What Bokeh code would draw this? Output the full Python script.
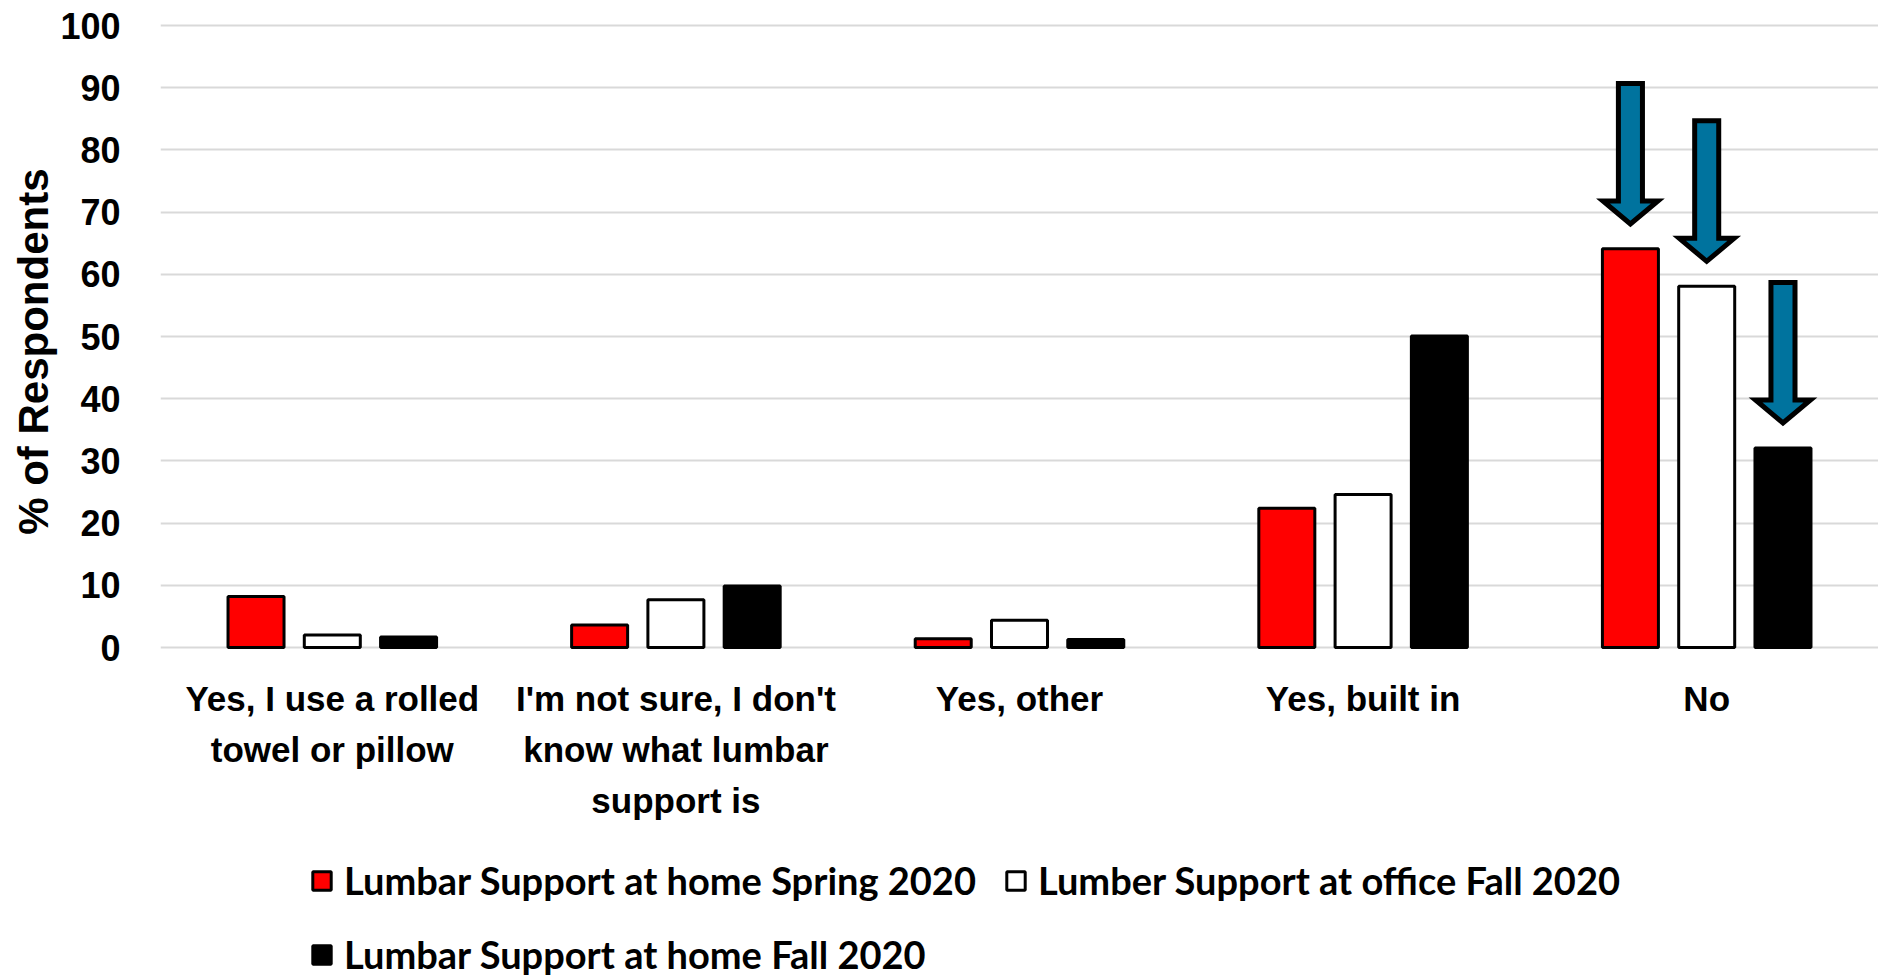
from bokeh.plotting import figure
from bokeh.models import ColumnDataSource, FixedTicker, Legend, LegendItem, Title
from bokeh.core.properties import value
from bokeh.embed import file_html
from bokeh.resources import INLINE

# ---- data ----
categories = [
    "Yes, I use a rolled towel or pillow",
    "I'm not sure, I don't know what lumbar support is",
    "Yes, other",
    "Yes, built in",
    "No",
]
category_labels = [
    "Yes, I use a rolled\ntowel or pillow",
    "I'm not sure, I don't\nknow what lumbar\nsupport is",
    "Yes, other",
    "Yes, built in",
    "No",
]
series_names = [
    "Lumbar Support at home Spring 2020",
    "Lumber Support at office Fall 2020",
    "Lumbar Support at home Fall 2020",
]
home_spring_2020 = [8.2, 3.6, 1.4, 22.4, 64.1]
office_fall_2020 = [2.0, 7.7, 4.4, 24.6, 58.1]
home_fall_2020 = [1.7, 9.9, 1.3, 50.1, 32.1]
series_values = [home_spring_2020, office_fall_2020, home_fall_2020]
series_colors = ["#FF0000", "#FFFFFF", "#000000"]
arrow_category = "No"
y_ticks = list(range(0, 101, 10))
y_title = "% of Respondents"

# ---- styles ----
FONT = "Liberation Sans"
LEGEND_FONT = "Lato"
offsets = [-0.222, 0.0, 0.222]
bar_width = 0.163
arrow_color = "#00739E"

p = figure(
    width=1878, height=976,
    x_range=(0, len(categories)), y_range=(-52.9, 100.5),
    x_axis_location=None,
    min_border_left=160, min_border_right=0, min_border_top=22, min_border_bottom=0,
    toolbar_location=None, output_backend="svg",
)
p.outline_line_color = None
p.xgrid.grid_line_color = None
p.ygrid.grid_line_color = "#D9D9D9"
p.ygrid.grid_line_width = 2
p.ygrid.ticker = FixedTicker(ticks=y_ticks)

centers = [i + 0.5 for i in range(len(categories))]

renderers = []
for k, (vals, col) in enumerate(zip(series_values, series_colors)):
    src = ColumnDataSource(dict(x=[c + offsets[k] for c in centers], top=vals, cat=categories))
    renderers.append(p.vbar(x="x", top="top", bottom=0, width=bar_width, source=src,
                            fill_color=col, line_color="black", line_width=3))

# arrows over the "No" bars
idx = categories.index(arrow_category)
xs, ys = [], []
sw, hw = 0.035, 0.08
for k, vals in enumerate(series_values):
    v = vals[idx]
    xc = centers[idx] + offsets[k]
    top, base, tip = v + 26.6, v + 7.7, v + 4.0
    xs.append([xc - sw, xc + sw, xc + sw, xc + hw, xc, xc - hw, xc - sw])
    ys.append([top, top, base, base, tip, base, base])
p.patches(xs=xs, ys=ys, fill_color=arrow_color, line_color="black", line_width=5, line_join="miter")

# category labels under the baseline
lab_src = ColumnDataSource(dict(x=centers, y=[0] * len(centers), text=category_labels))
p.text(x="x", y="y", text="text", source=lab_src, y_offset=31,
       text_font=value(FONT), text_font_style="bold", text_font_size="35px",
       text_color="black", text_align="center", text_baseline="top", text_line_height=1.32)

# y axis
ya = p.yaxis[0]
ya.ticker = FixedTicker(ticks=y_ticks)
ya.axis_line_color = None
ya.major_tick_line_color = None
ya.minor_tick_line_color = None
ya.major_label_text_font = FONT
ya.major_label_text_font_style = "bold"
ya.major_label_text_font_size = "36px"
ya.major_label_text_color = "black"
ya.major_label_standoff = 34

p.add_layout(Title(text=y_title, align="right", offset=146, standoff=1,
                   text_font=FONT, text_font_style="bold", text_font_size="42px",
                   text_color="black"), "left")

legend = Legend(
    items=[LegendItem(label=n, renderers=[r]) for n, r in zip(series_names, renderers)],
    orientation="horizontal", ncols=2, location=(150, -1),
    glyph_width=23, glyph_height=23, label_standoff=11, spacing=28, label_height=44,
    padding=0, margin=0, border_line_color=None, background_fill_alpha=0,
    label_text_font=LEGEND_FONT, label_text_font_style="bold", label_text_font_size="38px",
    label_text_color="black",
)
p.add_layout(legend, "center")

open("out.html", "w").write(file_html(p, INLINE))
